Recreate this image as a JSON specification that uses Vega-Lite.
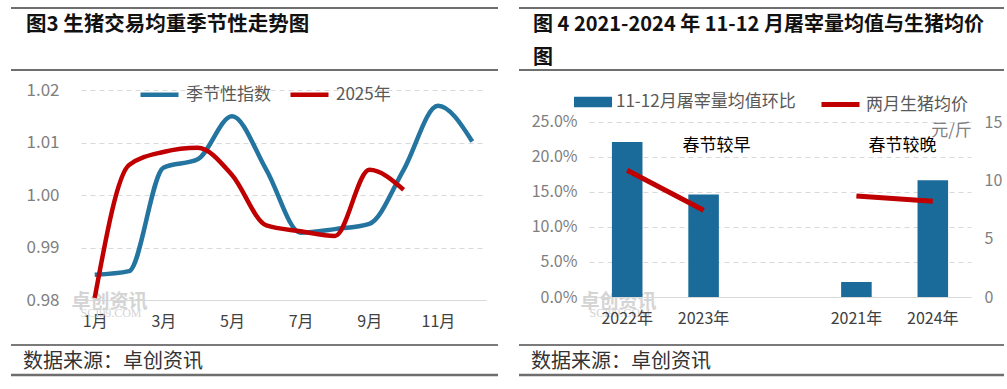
{
  "$schema": "https://vega.github.io/schema/vega-lite/v6.json",
  "padding": {"left": 9, "top": 7, "right": 3, "bottom": 5},
  "background": "white",
  "config": {
    "font": "Noto Sans CJK SC",
    "view": {"stroke": null},
    "axis": {"labelFont": "Noto Sans CJK SC", "titleFont": "Noto Sans CJK SC"},
    "legend": {"labelFont": "Noto Sans CJK SC", "labelLimit": 400}
  },
  "bounds": "flush",
  "spacing": 103,
  "resolve": {"legend": {"color": "independent", "fill": "independent", "stroke": "independent"}},
  "hconcat": [
    {
      "width": 405,
      "height": 210,
      "layer": [
        {
          "data": {"values": [
            {"t": "卓创资讯", "u": 1.4304, "v": 0.979619},
            {"t": "卓创资讯", "u": 16.261, "v": 0.979619}
          ]},
          "mark": {"type": "text", "fontSize": 19, "color": "#d4d4d4", "baseline": "middle", "fontWeight": "bold"},
          "encoding": {"text": {"field": "t"}, "x": {"field": "u", "type": "quantitative"}, "y": {"field": "v", "type": "quantitative"}}
        },
        {
          "data": {"values": [
            {"t": "SCI99.COM", "u": 1.474, "v": 0.977524},
            {"t": "SCI99.COM", "u": 16.304, "v": 0.977524}
          ]},
          "mark": {"type": "text", "fontSize": 12, "font": "Liberation Serif", "color": "#d4d4d4", "baseline": "middle"},
          "encoding": {"text": {"field": "t"}, "x": {"field": "u", "type": "quantitative"}, "y": {"field": "v", "type": "quantitative"}}
        },
        {
          "data": {"values": [
            {"month": 1, "series": "季节性指数", "value": 0.9848},
            {"month": 2, "series": "季节性指数", "value": 0.9855},
            {"month": 3, "series": "季节性指数", "value": 1.0052},
            {"month": 4, "series": "季节性指数", "value": 1.0068},
            {"month": 5, "series": "季节性指数", "value": 1.0150},
            {"month": 6, "series": "季节性指数", "value": 1.0048},
            {"month": 7, "series": "季节性指数", "value": 0.9928},
            {"month": 8, "series": "季节性指数", "value": 0.9935},
            {"month": 9, "series": "季节性指数", "value": 0.9945},
            {"month": 10, "series": "季节性指数", "value": 1.0048},
            {"month": 11, "series": "季节性指数", "value": 1.0170},
            {"month": 12, "series": "季节性指数", "value": 1.0102},
            {"month": 1, "series": "2025年", "value": 0.9804},
            {"month": 2, "series": "2025年", "value": 1.0057},
            {"month": 3, "series": "2025年", "value": 1.0082},
            {"month": 4, "series": "2025年", "value": 1.0090},
            {"month": 5, "series": "2025年", "value": 1.0038},
            {"month": 6, "series": "2025年", "value": 0.9942},
            {"month": 7, "series": "2025年", "value": 0.9931},
            {"month": 8, "series": "2025年", "value": 0.9922},
            {"month": 9, "series": "2025年", "value": 1.0048},
            {"month": 10, "series": "2025年", "value": 1.0010}
          ]},
          "mark": {"type": "line", "interpolate": "monotone", "strokeWidth": 4.5},
          "encoding": {
            "x": {"field": "month", "type": "quantitative",
                  "scale": {"domain": [0.6, 12.4], "nice": false, "zero": false},
                  "axis": {"values": [1, 3, 5, 7, 9, 11], "labelExpr": "datum.value + '月'", "grid": false, "ticks": false,
                           "domainColor": "#d9d9d9", "domainWidth": 1, "labelPadding": 13, "labelFontSize": 16,
                           "labelColor": "#404040", "title": null}},
            "y": {"field": "value", "type": "quantitative",
                  "scale": {"domain": [0.98, 1.02], "nice": false, "zero": false},
                  "axis": {"values": [0.98, 0.99, 1, 1.01, 1.02], "format": ".2f", "grid": true, "gridDash": [5, 4],
                           "gridColor": "#d9d9d9", "domain": false, "ticks": false, "labelPadding": 22,
                           "labelFontSize": 17, "labelColor": "#7f7f7f", "title": null}},
            "color": {"field": "series", "type": "nominal",
                      "scale": {"domain": ["季节性指数", "2025年"], "range": ["#2474a0", "#c00000"]},
                      "legend": {"orient": "none", "legendX": 57, "legendY": -17, "direction": "horizontal", "title": null,
                                 "symbolType": "stroke", "symbolSize": 1444, "symbolStrokeWidth": 4.5,
                                 "labelFontSize": 17, "labelColor": "#595959", "labelOffset": 5,
                                 "columnPadding": 10, "padding": 0}}
          }
        },
        {
          "data": {"values": [{"pos": "top"}]},
          "mark": {"type": "rule", "stroke": "#6e6e6e", "strokeWidth": 2},
          "encoding": {"x": {"datum": -1.4395}, "x2": {"datum": 12.7496}, "y": {"datum": 1.035619}}
        },
        {
          "data": {"values": [{"pos": "top"}]},
          "mark": {"type": "rule", "stroke": "#6e6e6e", "strokeWidth": 2},
          "encoding": {"x": {"datum": -1.4395}, "x2": {"datum": 12.7496}, "y": {"datum": 1.02381}}
        },
        {
          "data": {"values": [{"pos": "top"}]},
          "mark": {"type": "rule", "stroke": "#6e6e6e", "strokeWidth": 2},
          "encoding": {"x": {"datum": 13.3615}, "x2": {"datum": 27.4925}, "y": {"datum": 1.035619}}
        },
        {
          "data": {"values": [{"pos": "top"}]},
          "mark": {"type": "rule", "stroke": "#6e6e6e", "strokeWidth": 2},
          "encoding": {"x": {"datum": 13.3615}, "x2": {"datum": 27.4925}, "y": {"datum": 1.02381}}
        },
        {
          "data": {"values": [{"pos": "bottom"}]},
          "mark": {"type": "rule", "stroke": "#7a7a7a", "strokeWidth": 2},
          "encoding": {"x": {"datum": -1.4395}, "x2": {"datum": 12.7496}, "y": {"datum": 0.971429}}
        },
        {
          "data": {"values": [{"pos": "bottom"}]},
          "mark": {"type": "rule", "stroke": "#6e6e6e", "strokeWidth": 2.5},
          "encoding": {"x": {"datum": -1.4395}, "x2": {"datum": 12.7496}, "y": {"datum": 0.965714}}
        },
        {
          "data": {"values": [{"pos": "bottom"}]},
          "mark": {"type": "rule", "stroke": "#7a7a7a", "strokeWidth": 2},
          "encoding": {"x": {"datum": 13.3615}, "x2": {"datum": 27.4925}, "y": {"datum": 0.971429}}
        },
        {
          "data": {"values": [{"pos": "bottom"}]},
          "mark": {"type": "rule", "stroke": "#6e6e6e", "strokeWidth": 2.5},
          "encoding": {"x": {"datum": 13.3615}, "x2": {"datum": 27.4925}, "y": {"datum": 0.965714}}
        },
        {
          "data": {"values": [{"t": "图3 生猪交易均重季节性走势图"}]},
          "mark": {"type": "text", "align": "left", "baseline": "middle", "fontSize": 20.5, "fontWeight": "bold", "color": "#111111"},
          "encoding": {"text": {"field": "t"}, "x": {"datum": -1.0025}, "y": {"datum": 1.032381}}
        },
        {
          "data": {"values": [{"t": ["图 4  2021-2024 年 11-12 月屠宰量均值与生猪均价", "图"]}]},
          "mark": {"type": "text", "align": "left", "baseline": "middle", "fontSize": 20, "fontWeight": "bold", "color": "#111111", "lineHeight": 33},
          "encoding": {"text": {"field": "t"}, "x": {"datum": 13.7693}, "y": {"datum": 1.032381}}
        },
        {
          "data": {"values": [{"t": "数据来源：卓创资讯"}]},
          "mark": {"type": "text", "align": "left", "baseline": "middle", "fontSize": 20, "color": "#333333"},
          "encoding": {"text": {"field": "t"}, "x": {"datum": -1.0899}, "y": {"datum": 0.96819}}
        },
        {
          "data": {"values": [{"t": "数据来源：卓创资讯"}]},
          "mark": {"type": "text", "align": "left", "baseline": "middle", "fontSize": 20, "color": "#333333"},
          "encoding": {"text": {"field": "t"}, "x": {"datum": 13.711}, "y": {"datum": 0.96819}}
        }
      ]
    },
    {
      "width": 382,
      "height": 207,
      "data": {"values": [
        {"year": "2022年", "pct": 0.2214, "price": 10.86, "grp": "春节较早"},
        {"year": "2023年", "pct": 0.1463, "price": 7.43, "grp": "春节较早"},
        {"year": "2021年", "pct": 0.0214, "price": 8.66, "grp": "春节较晚"},
        {"year": "2024年", "pct": 0.1667, "price": 8.2, "grp": "春节较晚"}
      ]},
      "layer": [
        {
          "layer": [
            {
              "mark": {"type": "bar"},
              "encoding": {
                "x": {"field": "year", "type": "nominal",
                      "scale": {"domain": ["2022年", "2023年", " ", "2021年", "2024年"], "paddingInner": 0.6, "paddingOuter": 0.3},
                      "axis": {"ticks": false, "domainColor": "#d9d9d9", "domainWidth": 1, "labelPadding": 13,
                               "labelFontSize": 16, "labelColor": "#404040", "labelAngle": 0, "title": null}},
                "y": {"field": "pct", "type": "quantitative",
                      "scale": {"domain": [0, 0.295714], "nice": false},
                      "axis": {"values": [0, 0.05, 0.1, 0.15, 0.2, 0.25], "format": ".1%", "grid": true, "gridDash": [5, 4],
                               "gridColor": "#d9d9d9", "domain": false, "ticks": false, "labelPadding": 12,
                               "labelFontSize": 16, "labelColor": "#7f7f7f", "title": null}},
                "fill": {"datum": "11-12月屠宰量均值环比", "type": "nominal",
                         "scale": {"range": ["#1a6b9a"]},
                         "legend": {"orient": "none", "legendX": -15, "legendY": -7, "title": null,
                                    "symbolType": "M-1,-0.28H1V0.28H-1Z", "symbolSize": 1444, "symbolStrokeWidth": 0,
                                    "labelFontSize": 17, "labelColor": "#595959", "labelOffset": 4, "labelLimit": 400, "padding": 0}}
              }
            },
            {
              "data": {"values": [{"year": "2023年", "pct": 0.2153, "note": "春节较早"}]},
              "mark": {"type": "text", "dx": 13, "fontSize": 17, "color": "#000000", "baseline": "middle"},
              "encoding": {
                "x": {"field": "year", "type": "nominal"},
                "y": {"field": "pct", "type": "quantitative"},
                "text": {"field": "note"}
              }
            },
            {
              "data": {"values": [{"year": "2021年", "pct": 0.2153, "note": "春节较晚"}]},
              "mark": {"type": "text", "dx": 46, "fontSize": 17, "color": "#000000", "baseline": "middle"},
              "encoding": {
                "x": {"field": "year", "type": "nominal"},
                "y": {"field": "pct", "type": "quantitative"},
                "text": {"field": "note"}
              }
            }
          ]
        },
        {
          "mark": {"type": "line", "strokeWidth": 5},
          "encoding": {
            "x": {"field": "year", "type": "nominal"},
            "y": {"field": "price", "type": "quantitative",
                  "scale": {"domain": [0, 17.7429], "nice": false},
                  "axis": {"orient": "right", "values": [0, 5, 10, 15], "grid": false, "domain": false, "ticks": false,
                           "labelPadding": 13, "labelFontSize": 16, "labelColor": "#7f7f7f",
                           "title": "元/斤", "titleAngle": 0, "titleX": -20, "titleY": 40, "titleAlign": "center",
                           "titleBaseline": "middle", "titleFontSize": 17, "titleFontWeight": "normal", "titleColor": "#7f7f7f"}},
            "detail": {"field": "grp"},
            "stroke": {"datum": "两月生猪均价", "type": "nominal",
                       "scale": {"range": ["#c00000"]},
                       "legend": {"orient": "none", "legendX": 230, "legendY": -7, "title": null,
                                  "symbolType": "stroke", "symbolSize": 1444, "symbolStrokeWidth": 5,
                                  "labelFontSize": 17, "labelColor": "#595959", "labelOffset": 4, "padding": 0}}
          }
        }
      ],
      "resolve": {"scale": {"y": "independent"}}
    }
  ]
}
